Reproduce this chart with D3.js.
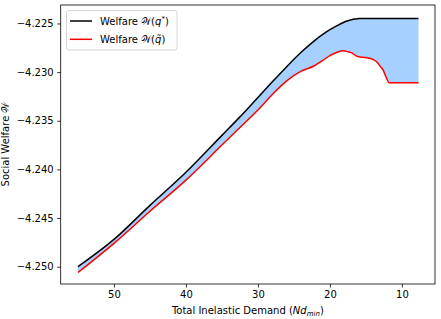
<!DOCTYPE html>
<html><head><meta charset="utf-8">
<script src="https://cdn.jsdelivr.net/npm/d3@7"></script>
<style>
body{margin:0;background:#fff;}
text{font-family:"DejaVu Sans",sans-serif;}
</style></head>
<body><svg id="c" width="441" height="319"></svg>
<script>
const demand = [55,50,45,40,35,32.5,30,28,26,24,22.3,21,20,19,18.2,17.5,17,16.5,16,15,14,13.5,13,12.6,12.2,11.76,11,10,9,7.7];
const welfareOpt = [-4.2500,-4.2472,-4.2437,-4.2403,-4.2365,-4.2346,-4.2326,-4.2310,-4.22944,-4.22796,-4.22686,-4.22613,-4.22564,-4.22522,-4.22492,-4.22472,-4.22462,-4.22455,-4.2245,-4.2245,-4.2245,-4.2245,-4.2245,-4.2245,-4.2245,-4.2245,-4.2245,-4.2245,-4.2245,-4.2245];
const welfareApprox = [-4.2506,-4.2476,-4.2443,-4.2411,-4.2375,-4.2357,-4.2339,-4.2323,-4.2309,-4.2299,-4.2294,-4.2288,-4.2283,-4.22795,-4.2278,-4.2279,-4.2280,-4.22826,-4.22843,-4.2285,-4.2287,-4.22894,-4.2294,-4.2298,-4.2305,-4.2311,-4.2311,-4.2311,-4.2311,-4.2311];
const xTicks = [50,40,30,20,10];
const yTicks = [-4.225,-4.230,-4.235,-4.240,-4.245,-4.250];

const svg = d3.select("#c");
const L=60.7,R=435,T=5,B=284;
const x = d3.scaleLinear().domain([57.4,5.4]).range([L,R]);
const y = d3.scaleLinear().domain([-4.25178,-4.2231]).range([B,T]);
const pts = demand.map((d,i)=>({x:d,a:welfareOpt[i],b:welfareApprox[i]}));
const curve = d3.curveMonotoneX;

svg.append("path").datum(pts)
  .attr("d", d3.area().x(d=>x(d.x)).y0(d=>y(d.b)).y1(d=>y(d.a)).curve(curve))
  .attr("fill","#a6d0ff");
svg.append("path").datum(pts)
  .attr("d", d3.line().x(d=>x(d.x)).y(d=>y(d.a)).curve(curve))
  .attr("fill","none").attr("stroke","#000").attr("stroke-width",1.5);
svg.append("path").datum(pts)
  .attr("d", d3.line().x(d=>x(d.x)).y(d=>y(d.b)).curve(curve))
  .attr("fill","none").attr("stroke","#ff0000").attr("stroke-width",1.5);

const fmt = v => (v<0?"\u2212":"")+Math.abs(v).toFixed(3);
const gx = svg.append("g").attr("transform",`translate(0,${B})`)
  .call(d3.axisBottom(x).tickValues(xTicks).tickSize(3.5).tickPadding(3.5).tickFormat(d3.format("d")));
const gy = svg.append("g").attr("transform",`translate(${L},0)`)
  .call(d3.axisLeft(y).tickValues(yTicks).tickSize(3.5).tickPadding(3.5).tickFormat(fmt));
[gx,gy].forEach(g=>{
  g.select(".domain").remove();
  g.selectAll("text").attr("font-size",10).attr("font-family","DejaVu Sans").attr("fill","#000");
  g.selectAll("line").attr("stroke","#000").attr("stroke-width",0.8);
});
svg.append("rect").attr("x",L).attr("y",T).attr("width",R-L).attr("height",B-T)
  .attr("fill","none").attr("stroke","#000").attr("stroke-width",0.8);

// axis labels
const xl = svg.append("text").attr("x",(L+R)/2).attr("y",314).attr("text-anchor","middle").attr("font-size",10);
xl.append("tspan").text("Total Inelastic Demand (");
xl.append("tspan").attr("font-style","italic").text("Nd");
xl.append("tspan").attr("font-style","italic").attr("font-size",7).attr("dy",2).text("min");
xl.append("tspan").attr("dy",-2).text(")");

svg.append("text").attr("transform",`translate(9,${(T+B)/2}) rotate(-90)`)
  .attr("text-anchor","middle").attr("font-size",10).text("Social Welfare \uD835\uDCB2");

// legend
const lg = svg.append("g");
lg.append("rect").attr("x",66.5).attr("y",10.5).attr("width",110.5).attr("height",39.5).attr("rx",2.5)
  .attr("fill","#fff").attr("fill-opacity",0.8).attr("stroke","#cccccc").attr("stroke-width",0.8);
const items=[{c:"#000",y:21,sup:true},{c:"#ff0000",y:39.3,sup:false}];
items.forEach(it=>{
  lg.append("line").attr("x1",70).attr("x2",92).attr("y1",it.y).attr("y2",it.y).attr("stroke",it.c).attr("stroke-width",1.5);
  const t = lg.append("text").attr("x",100).attr("y",it.y+3.5).attr("font-size",10);
  t.append("tspan").text("Welfare \uD835\uDCB2(");
  if(it.sup){
    t.append("tspan").attr("font-style","italic").text("q");
    t.append("tspan").attr("font-size",7).attr("dy",-4).text("*");
    t.append("tspan").attr("dy",4).text(")");
  } else {
    t.append("tspan").attr("font-style","italic").text("q\u0303");
    t.append("tspan").text(")");
  }
});
</script></body></html>
